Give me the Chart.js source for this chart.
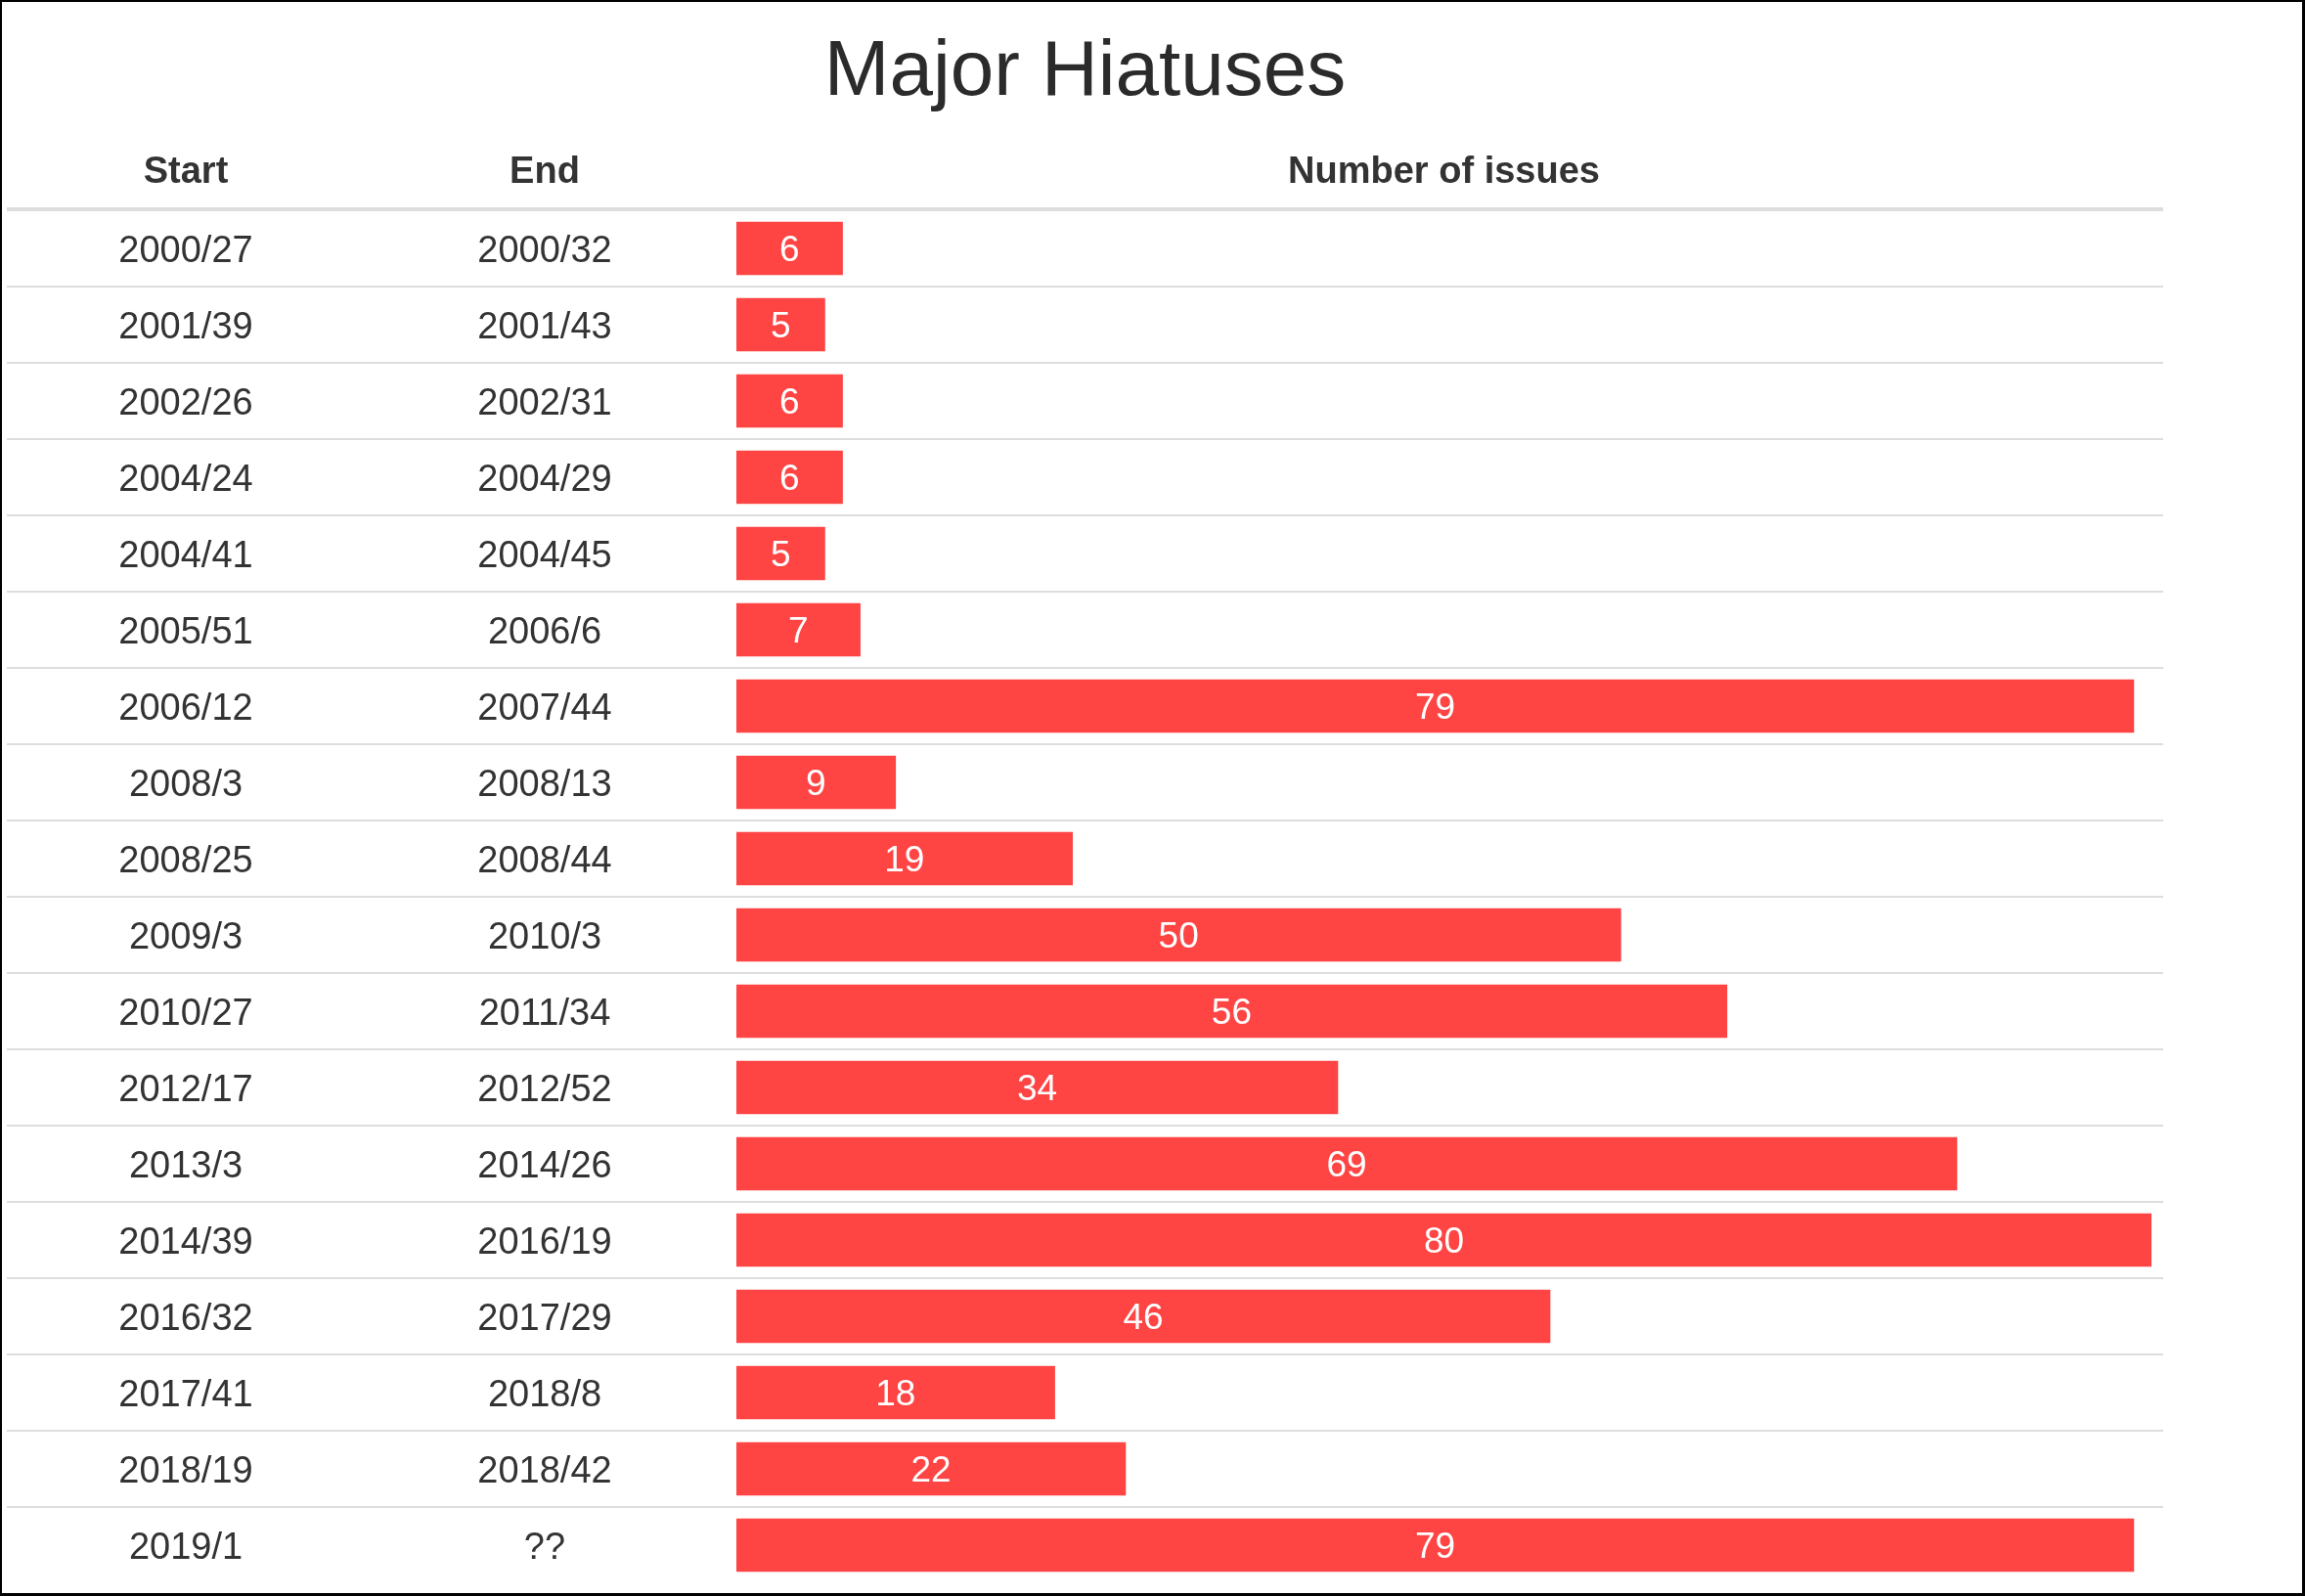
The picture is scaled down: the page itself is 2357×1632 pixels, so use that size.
<!DOCTYPE html>
<html>
<head>
<meta charset="utf-8">
<script src="https://cdn.jsdelivr.net/npm/chart.js@4"></script>
<style>
  html, body { margin: 0; padding: 0; background: #ffffff; overflow: hidden; }
  canvas { display: block; }
</style>
</head>
<body>
<canvas id="c" width="2357" height="1632"></canvas>
<script>
const chartTitle = 'Major Hiatuses';
const headers = ['Start', 'End', 'Number of issues'];
const starts = ['2000/27','2001/39','2002/26','2004/24','2004/41','2005/51','2006/12','2008/3','2008/25','2009/3','2010/27','2012/17','2013/3','2014/39','2016/32','2017/41','2018/19','2019/1'];
const ends = ['2000/32','2001/43','2002/31','2004/29','2004/45','2006/6','2007/44','2008/13','2008/44','2010/3','2011/34','2012/52','2014/26','2016/19','2017/29','2018/8','2018/42','??'];
const issues = [6,5,6,6,5,7,79,9,19,50,56,34,69,80,46,18,22,79];

const FONT = '"Liberation Sans", Arial, Helvetica, sans-serif';
const TEXT = '#333333';

const tablePlugin = {
  id: 'tablePlugin',
  beforeDraw(chart) {
    const ctx = chart.ctx;
    ctx.save();
    ctx.fillStyle = '#ffffff';
    ctx.fillRect(0, 0, chart.width, chart.height);
    ctx.restore();
  },
  afterDatasetsDraw(chart) {
    const ctx = chart.ctx;
    const ys = chart.scales.y;
    const area = chart.chartArea;
    const tableLeft = 7, tableRight = 2212;
    const colStartX = 190, colEndX = 557;
    const colBarX = (area.left + area.right) / 2;
    const baseOff = 13.5;
    ctx.save();

    // title
    ctx.fillStyle = '#2b2b2b';
    ctx.font = '80px ' + FONT;
    ctx.textAlign = 'center';
    ctx.textBaseline = 'alphabetic';
    ctx.fillText(chartTitle, (tableLeft + tableRight) / 2, 97);

    // headers
    ctx.fillStyle = TEXT;
    ctx.font = 'bold 38px ' + FONT;
    ctx.fillText(headers[0], colStartX, 187);
    ctx.fillText(headers[1], colEndX, 187);
    ctx.fillText(headers[2], colBarX, 187);

    // header rule
    ctx.fillStyle = '#dddddd';
    ctx.fillRect(tableLeft, area.top - 3, tableRight - tableLeft, 4);

    // row separators
    for (let i = 0; i < starts.length - 1; i++) {
      const y = (ys.getPixelForValue(i) + ys.getPixelForValue(i + 1)) / 2;
      ctx.fillRect(tableLeft, y - 1, tableRight - tableLeft, 2);
    }

    // column texts
    ctx.fillStyle = TEXT;
    ctx.font = '38px ' + FONT;
    for (let i = 0; i < starts.length; i++) {
      const y = ys.getPixelForValue(i) + baseOff;
      ctx.fillText(starts[i], colStartX, y);
      ctx.fillText(ends[i], colEndX, y);
    }

    // bar labels
    const meta = chart.getDatasetMeta(0);
    ctx.fillStyle = '#ffffff';
    ctx.font = '37px ' + FONT;
    meta.data.forEach((bar, i) => {
      ctx.fillText(String(issues[i]), (bar.x + bar.base) / 2, bar.y + baseOff - 0.5);
    });

    // frame
    ctx.fillStyle = '#000000';
    ctx.fillRect(0, 0, chart.width, 2);
    ctx.fillRect(0, 0, 2, chart.height);
    ctx.fillRect(chart.width - 3, 0, 3, chart.height);
    ctx.fillRect(0, chart.height - 3, chart.width, 3);
    ctx.restore();
  }
};

new Chart(document.getElementById('c'), {
  type: 'bar',
  data: {
    labels: starts,
    datasets: [{
      data: issues,
      backgroundColor: '#ff4444',
      borderWidth: 0,
      barThickness: 54
    }]
  },
  options: {
    indexAxis: 'y',
    responsive: false,
    devicePixelRatio: 1,
    animation: false,
    events: [],
    layout: { padding: { left: 753, right: 157, top: 215, bottom: 13 } },
    scales: {
      x: { display: false, min: 0, max: 80 },
      y: { display: false, offset: true }
    },
    plugins: {
      legend: { display: false },
      title: { display: false },
      tooltip: { enabled: false }
    }
  },
  plugins: [tablePlugin]
});
</script>
</body>
</html>
